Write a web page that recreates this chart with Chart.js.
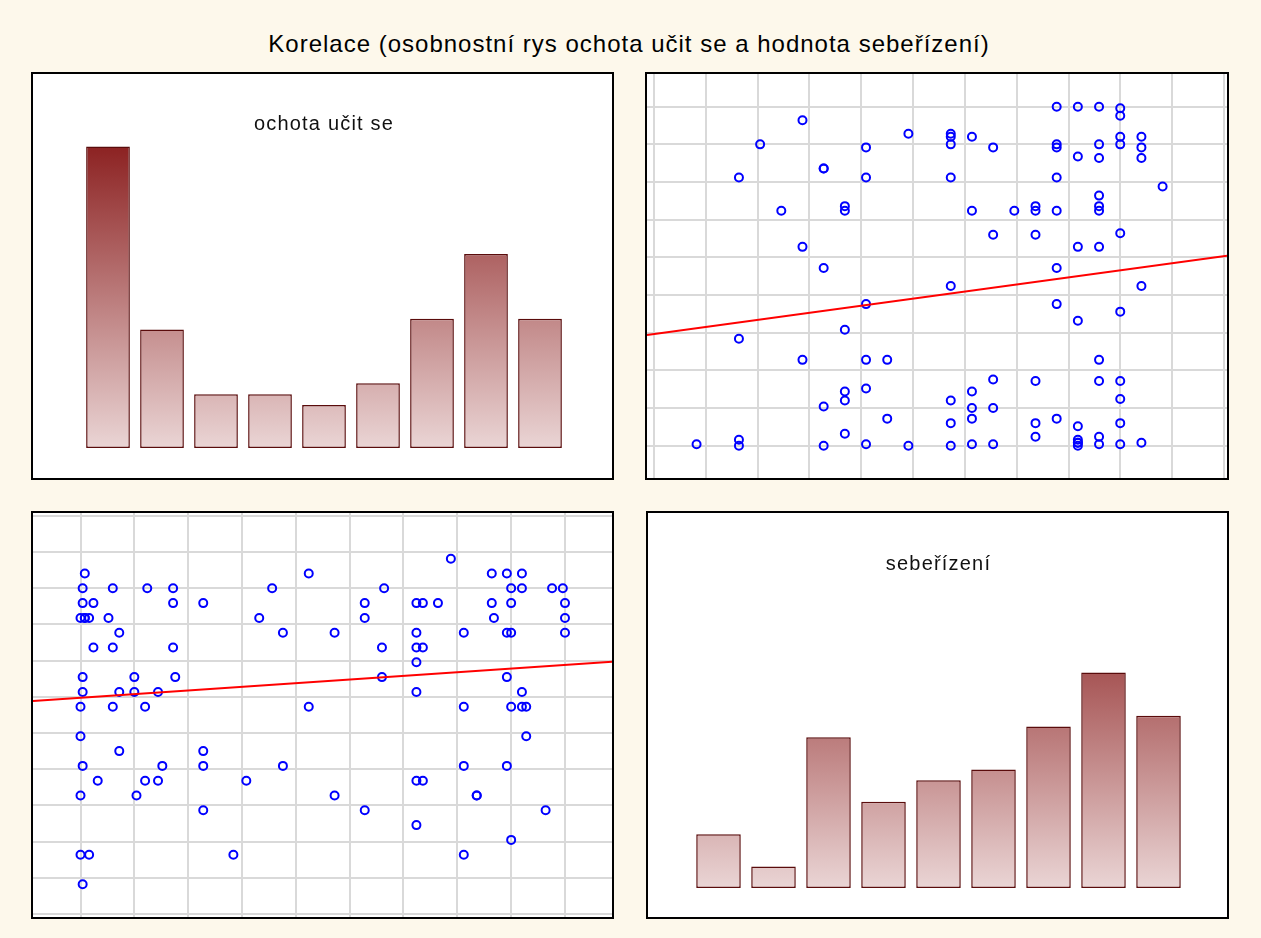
<!DOCTYPE html>
<html lang="cs">
<head>
<meta charset="utf-8">
<title>Korelace</title>
<script src="https://cdn.jsdelivr.net/npm/chart.js@4.4.1/dist/chart.umd.min.js"></script>
<style>
    body { margin: 0; background: #fdf8eb; font-family: "Liberation Sans", Arial, sans-serif; }
    #page { position: relative; width: 1261px; height: 938px; }
    #main-title {
        position: absolute; left: 0; top: 30px; width: 1258px;
        text-align: center; font-size: 24px; line-height: 28px; color: #000;
        letter-spacing: 1px;
    }
    .panel { position: absolute; border: 2px solid #000; background: #fff; }
    .panel canvas { display: block; }
</style>
</head>
<body>
<div id="page">
    <div id="main-title">Korelace (osobnostní rys ochota učit se a hodnota sebeřízení)</div>
    <div class="panel" style="left:31px; top:72px;"><canvas id="hist-ochota" width="579" height="404"></canvas></div>
    <div class="panel" style="left:645px; top:72px;"><canvas id="scatter-top" width="580" height="404"></canvas></div>
    <div class="panel" style="left:31px; top:511px;"><canvas id="scatter-bottom" width="579" height="404"></canvas></div>
    <div class="panel" style="left:646px; top:511px;"><canvas id="hist-seb" width="579" height="404"></canvas></div>
</div>

<script>
// =====================
// Data
// =====================
const ochotaBins = ["0–25", "25–50", "50–75", "75–100", "100–125", "125–150", "150–175", "175–200", "200–225"];
const ochotaCounts = [28, 11, 5, 5, 4, 6, 12, 18, 12];

const sebBins = ["0–2,4", "2,4–4,9", "4,9–7,3", "7,3–9,8", "9,8–12,2", "12,2–14,7", "14,7–17,1", "17,1–19,6", "19,6–22"];
const sebCounts = [5, 2, 14, 8, 10, 11, 15, 20, 16];

// scores of the 101 respondents, same order in both lists
const ochota = [
    172,
    2, 106, 191, 198, 205,
    1, 15, 31, 43, 89, 141, 200, 205, 219, 224,
    1, 6, 43, 57, 132, 156, 159, 166, 191, 200, 225,
    0, 2, 2, 4, 13, 83, 132, 192, 225,
    18, 94, 118, 156, 178, 198, 200, 225,
    6, 15, 43, 140, 156, 159,
    156,
    1, 25, 44, 140, 198,
    1, 18, 25, 36, 156, 205,
    0, 15, 30, 106, 178, 200, 205, 207,
    0, 207,
    18, 57,
    1, 38, 57, 94, 178, 198,
    8, 30, 36, 77, 156, 159,
    0, 26, 118, 184, 184,
    57, 132, 216,
    156,
    200,
    0, 4, 71, 178,
    1
];
const seberizeni = [
    22,
    21, 21, 21, 21, 21,
    20, 20, 20, 20, 20, 20, 20, 20, 20, 20,
    19, 19, 19, 19, 19, 19, 19, 19, 19, 19, 19,
    18, 18, 18, 18, 18, 18, 18, 18, 18,
    17, 17, 17, 17, 17, 17, 17, 17,
    16, 16, 16, 16, 16, 16,
    15,
    14, 14, 14, 14, 14,
    13, 13, 13, 13, 13, 13,
    12, 12, 12, 12, 12, 12, 12, 12,
    10, 10,
    9, 9,
    8, 8, 8, 8, 8, 8,
    7, 7, 7, 7, 7, 7,
    6, 6, 6, 6, 6,
    5, 5, 5,
    4,
    3,
    2, 2, 2, 2,
    0
];

// grid lines (bin edges of the histograms)
const ochotaGrid = [0, 25, 50, 75, 100, 125, 150, 175, 200, 225];
const sebGrid = [-2.0, 0.44, 2.89, 5.33, 7.78, 10.22, 12.67, 15.11, 17.56, 20.0, 22.44, 24.89];

// =====================
// Helpers
// =====================
Chart.defaults.font.family = '"Liberation Sans", Arial, sans-serif';

function fitLine(xs, ys) {
    const n = xs.length;
    const mx = xs.reduce((s, v) => s + v, 0) / n;
    const my = ys.reduce((s, v) => s + v, 0) / n;
    let sxy = 0, sxx = 0;
    for (let i = 0; i < n; i++) {
        sxy += (xs[i] - mx) * (ys[i] - my);
        sxx += (xs[i] - mx) * (xs[i] - mx);
    }
    const b = sxy / sxx;
    return { a: my - b * mx, b: b };
}

function gridTicks(values) {
    return scale => { scale.ticks = values.map(v => ({ value: v })); };
}

function barGradient(context) {
    const chart = context.chart;
    if (!chart.chartArea) return "#c89090";
    const y = chart.scales.y;
    const g = chart.ctx.createLinearGradient(0, y.getPixelForValue(0), 0, y.getPixelForValue(28));
    g.addColorStop(0, "#ead5d5");
    g.addColorStop(1, "#8c2222");
    return g;
}

const spacedTitle = {
    id: "spacedTitle",
    beforeDraw(chart) { chart.ctx.letterSpacing = "1.2px"; }
};

// =====================
// Render Functions
// =====================
function renderHistogram(id, title, labels, counts, pad, titleTop) {
    new Chart(document.getElementById(id), {
        type: "bar",
        data: {
            labels: labels,
            datasets: [{
                data: counts,
                backgroundColor: barGradient,
                borderColor: "#5a0c0c",
                borderWidth: 1.5,
                borderSkipped: false,
                categoryPercentage: 1,
                barPercentage: 0.81
            }]
        },
        options: {
            responsive: false,
            animation: false,
            layout: { padding: pad, autoPadding: false },
            scales: {
                x: { display: false },
                y: { display: false, min: 0, max: 28.5 }
            },
            plugins: {
                legend: { display: false },
                tooltip: { enabled: false },
                title: {
                    display: true,
                    text: title,
                    color: "#111",
                    font: { size: 20, weight: "normal" },
                    padding: { top: titleTop, bottom: 5 }
                }
            }
        },
        plugins: [spacedTitle]
    });
}

function renderScatter(id, xs, ys, xRange, yRange, xGrid, yGrid) {
    const fit = fitLine(xs, ys);
    const points = xs.map((x, i) => ({ x: x, y: ys[i] }));
    const gridOpts = { color: "#d9d9d9", lineWidth: 2, drawTicks: false };

    new Chart(document.getElementById(id), {
        type: "scatter",
        data: {
            datasets: [
                {
                    type: "line",
                    data: [
                        { x: xRange[0], y: fit.a + fit.b * xRange[0] },
                        { x: xRange[1], y: fit.a + fit.b * xRange[1] }
                    ],
                    borderColor: "#ff0000",
                    borderWidth: 2,
                    pointRadius: 0,
                    fill: false
                },
                {
                    data: points,
                    pointRadius: 4,
                    borderWidth: 2,
                    borderColor: "#0000ff",
                    backgroundColor: "rgba(0,0,0,0)"
                }
            ]
        },
        options: {
            responsive: false,
            animation: false,
            layout: { padding: 0, autoPadding: false },
            scales: {
                x: {
                    type: "linear", min: xRange[0], max: xRange[1],
                    afterBuildTicks: gridTicks(xGrid),
                    ticks: { display: false }, grid: gridOpts, border: { display: false }
                },
                y: {
                    type: "linear", min: yRange[0], max: yRange[1],
                    afterBuildTicks: gridTicks(yGrid),
                    ticks: { display: false }, grid: gridOpts, border: { display: false }
                }
            },
            plugins: {
                legend: { display: false },
                tooltip: { enabled: false }
            }
        }
    });
}

// =====================
// Initialization
// =====================
function initCharts() {
    renderHistogram("hist-ochota", "ochota učit se", ochotaBins, ochotaCounts,
        { left: 48, right: 45, bottom: 30, top: 0 }, 38);
    renderHistogram("hist-seb", "sebeřízení", sebBins, sebCounts,
        { left: 43, right: 41, bottom: 29, top: 0 }, 39);
    renderScatter("scatter-top", seberizeni, ochota, [-2.34, 25.04], [-21.4, 246.7], sebGrid, ochotaGrid);
    renderScatter("scatter-bottom", ochota, seberizeni, [-22.06, 246.83], [-2.21, 25.09], ochotaGrid, sebGrid);
}

document.addEventListener("DOMContentLoaded", initCharts);
</script>
</body>
</html>
